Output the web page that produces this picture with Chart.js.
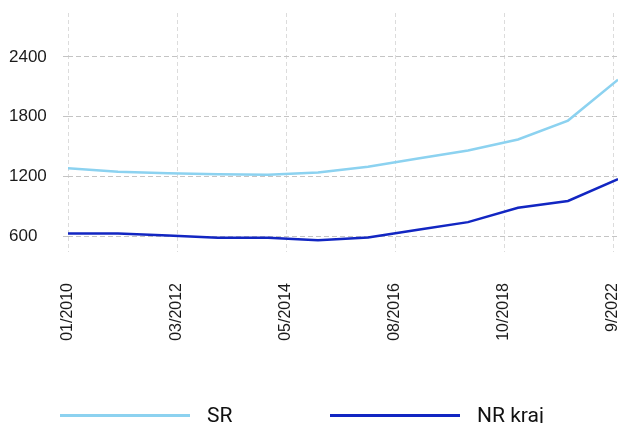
<!DOCTYPE html>
<html>
<head>
<meta charset="utf-8">
<script src="https://cdn.jsdelivr.net/npm/chart.js@4"></script>
<style>
  html, body { margin: 0; padding: 0; background: #fff; }
  #wrap { position: relative; width: 619px; height: 423px; overflow: hidden; }
  #legend { position: absolute; left: 60px; top: 405px; display: flex; font: 21px Roboto, sans-serif; color: #111; }
  .item { display: flex; align-items: center; width: 270px; height: 21px; line-height: 21px; }
  .swatch { width: 130px; height: 3px; margin-right: 17px; }
</style>
</head>
<body>
<div id="wrap">
  <canvas id="lineChart" width="619" height="423"></canvas>
  <div id="legend"></div>
</div>
<script>
const ctx = document.getElementById("lineChart");

const xLabels = ["01/2010", "03/2012", "05/2014", "08/2016", "10/2018", "9/2022"];
const yTicks = [600, 1200, 1800, 2400];
const srValues = [1280, 1245, 1232, 1220, 1215, 1238, 1295, 1378, 1460, 1570, 1760, 2170];
const nrValues = [627, 627, 605, 582, 582, 558, 585, 663, 740, 885, 952, 1172];

const lightBlue = "#8cd2f0";
const darkBlue = "#1226c2";
const tickStep = 2.18;

const toPoints = (arr) => arr.map((v, i) => ({ x: i, y: v }));

const chart = new Chart(ctx, {
  type: 'line',
  data: {
    datasets: [{
      label: "SR",
      data: toPoints(srValues),
      borderColor: lightBlue,
      backgroundColor: lightBlue,
      borderWidth: 2.5,
      pointRadius: 0,
      tension: 0
    }, {
      label: "NR kraj",
      data: toPoints(nrValues),
      borderColor: darkBlue,
      backgroundColor: darkBlue,
      borderWidth: 2.5,
      pointRadius: 0,
      tension: 0
    }]
  },
  options: {
    responsive: false,
    animation: false,
    layout: {
      padding: { left: 9, top: 13, right: 1, bottom: 0 }
    },
    plugins: {
      legend: { display: false },
      tooltip: { enabled: false }
    },
    scales: {
      x: {
        type: 'linear',
        min: 0,
        max: srValues.length - 1,
        afterBuildTicks: (s) => {
          s.ticks = xLabels.map((l, i) => ({ value: i * tickStep }));
        },
        afterFit: (s) => {
          s.height = 171;
          s.paddingLeft = 0;
          s.paddingRight = 0;
        },
        ticks: {
          autoSkip: false,
          minRotation: 90,
          maxRotation: 90,
          padding: 1,
          color: "#1a1a1a",
          font: { family: "'Liberation Sans', Arial, sans-serif", size: 16 },
          callback: (v, i) => xLabels[i]
        },
        grid: {
          color: "#dcdcdc",
          tickColor: "transparent",
          tickLength: 30,
          lineWidth: 1
        },
        border: { display: false, dash: [4, 3] }
      },
      y: {
        min: 440,
        max: 2840,
        afterBuildTicks: (s) => {
          s.ticks = yTicks.map(v => ({ value: v }));
        },
        afterFit: (s) => {
          s.width = 59;
          s.paddingTop = 0;
          s.paddingBottom = 0;
        },
        ticks: {
          crossAlign: 'far',
          color: "#1a1a1a",
          font: { family: "'Liberation Sans', Arial, sans-serif", size: 17 },
          callback: (v) => String(v)
        },
        grid: {
          color: "#c4c4c4",
          tickLength: 5,
          lineWidth: 1
        },
        border: { display: false, dash: [5, 3] }
      }
    }
  }
});

// html legend below the chart
const legendEl = document.getElementById("legend");
chart.data.datasets.forEach(ds => {
  const item = document.createElement("div");
  item.className = "item";
  const sw = document.createElement("span");
  sw.className = "swatch";
  sw.style.background = ds.borderColor;
  const txt = document.createElement("span");
  txt.textContent = ds.label;
  item.appendChild(sw);
  item.appendChild(txt);
  legendEl.appendChild(item);
});
</script>
</body>
</html>
